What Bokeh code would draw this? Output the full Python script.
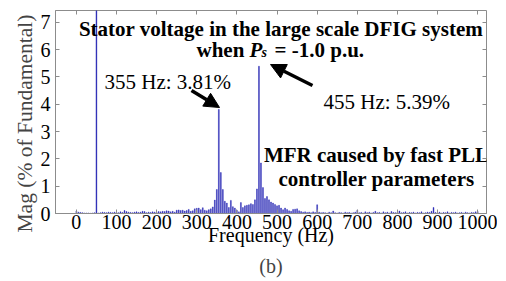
from bokeh.plotting import figure
from bokeh.models import (Range1d, LinearAxis, Label, Arrow, NormalHead, Title,
                          FixedTicker, CustomJSTickFormatter, ColumnDataSource)
from bokeh.embed import file_html
from bokeh.resources import INLINE

# ---- data -------------------------------------------------------------
freq_hz = list(range(0, 1001, 5))   # FFT bins (5 Hz resolution)
mag_pct = [
    0.09, 0.05, 0.04, 0.03, 0.02, 0.02, 0.02, 0.01, 0.02, 0.03,   # 0-45
    100.0, 0.02, 0.03, 0.05, 0.04, 0.03, 0.05, 0.04, 0.03, 0.05,  # 50-95
    0.04, 0.03, 0.06, 0.04, 0.11, 0.07, 0.05, 0.04, 0.03, 0.05,   # 100-145
    0.06, 0.04, 0.05, 0.08, 0.07, 0.03, 0.05, 0.04, 0.06, 0.05,   # 150-195
    0.04, 0.07, 0.06, 0.08, 0.07, 0.10, 0.09, 0.06, 0.08, 0.05,   # 200-245
    0.12, 0.13, 0.11, 0.12, 0.09, 0.11, 0.15, 0.08, 0.10, 0.17,   # 250-295
    0.19, 0.20, 0.14, 0.21, 0.12, 0.10, 0.14, 0.17, 0.24, 0.49,   # 300-345
    0.88, 3.81, 1.50, 0.88, 0.45, 0.38, 0.22, 0.48, 0.25, 0.20,   # 350-395
    0.12, 0.06, 0.40, 0.22, 0.28, 0.30, 0.32, 0.36, 0.33, 0.50,   # 400-445
    0.90, 5.39, 1.85, 0.95, 0.55, 0.62, 0.50, 0.42, 0.38, 0.33,   # 450-495
    0.28, 0.30, 0.20, 0.14, 0.20, 0.15, 0.10, 0.08, 0.15, 0.16,   # 500-545
    0.17, 0.10, 0.07, 0.05, 0.06, 0.04, 0.05, 0.03, 0.06, 0.04,   # 550-595
    0.32, 0.05, 0.03, 0.04, 0.03, 0.02, 0.05, 0.03, 0.09, 0.03,   # 600-645
    0.02, 0.04, 0.03, 0.02, 0.05, 0.03, 0.04, 0.02, 0.03, 0.05,   # 650-695
    0.12, 0.03, 0.04, 0.02, 0.06, 0.03, 0.05, 0.02, 0.04, 0.08,   # 700-745
    0.03, 0.04, 0.02, 0.06, 0.03, 0.05, 0.02, 0.07, 0.04, 0.03,   # 750-795
    0.05, 0.09, 0.03, 0.04, 0.06, 0.02, 0.04, 0.03, 0.05, 0.02,   # 800-845
    0.04, 0.03, 0.06, 0.02, 0.03, 0.05, 0.04, 0.08, 0.22, 0.04,   # 850-895
    0.03, 0.05, 0.02, 0.04, 0.03, 0.06, 0.02, 0.04, 0.03, 0.05,   # 900-945
    0.02, 0.03, 0.04, 0.02, 0.05, 0.03, 0.02, 0.04, 0.03, 0.06,   # 950-995
    0.07,                                                          # 1000
]
x_ticks = [0, 100, 200, 300, 400, 500, 600, 700, 800, 900, 1000]
y_ticks = [0, 1, 2, 3, 4, 5, 6, 7]

title_line1 = "Stator voltage in the large scale DFIG system"
peak1_text = "355 Hz: 3.81%"
peak2_text = "455 Hz: 5.39%"
note_line1 = "MFR caused by fast PLL"
note_line2 = "controller parameters"
y_label = "Mag (% of Fundamental)"
x_label = "Frequency (Hz)"

# ---- figure -----------------------------------------------------------
FONT = "'Liberation Serif', 'Times New Roman', serif"
GRAY = "#8c8c8c"
BLUE = "#2323b4"

p = figure(frame_width=431, frame_height=203, output_backend="svg",
           toolbar_location=None,
           x_range=Range1d(-52, 1022), y_range=Range1d(0, 7.43),
           min_border_left=55, min_border_right=11, min_border_top=10,
           min_border_bottom=0, background_fill_color="white",
           border_fill_color="white")
p.grid.visible = False
p.outline_line_color = GRAY

src = ColumnDataSource(dict(freq=freq_hz, mag=mag_pct))
p.vbar(x="freq", top="mag", width=2.2, source=src,
       fill_color=BLUE, line_color=BLUE, line_width=0.4)

for ax in (p.xaxis[0], p.yaxis[0]):
    ax.axis_line_color = GRAY
    ax.major_tick_line_color = GRAY
    ax.major_tick_in = 4
    ax.major_tick_out = 0
    ax.minor_tick_line_color = None
    ax.major_label_text_font = FONT
    ax.major_label_text_font_size = "20px"
    ax.major_label_text_color = "black"
    ax.axis_label_text_font = FONT
    ax.axis_label_text_font_style = "normal"
    ax.axis_label_text_color = "black"

p.xaxis.ticker = FixedTicker(ticks=x_ticks)
p.yaxis.ticker = FixedTicker(ticks=y_ticks)
p.xaxis.axis_label = x_label
p.xaxis.axis_label_text_font_size = "20px"
p.xaxis.major_label_standoff = 1
p.xaxis.axis_label_standoff = -8
p.yaxis.major_label_standoff = 5

blank = CustomJSTickFormatter(code="return ''")
top_ax = LinearAxis(ticker=FixedTicker(ticks=x_ticks), formatter=blank,
                    axis_line_color=None, major_tick_line_color=GRAY,
                    major_tick_in=4, major_tick_out=0,
                    minor_tick_line_color=None, major_label_standoff=0,
                    major_label_text_font_size="1px")
right_ax = LinearAxis(ticker=FixedTicker(ticks=y_ticks), formatter=blank,
                      axis_line_color=None, major_tick_line_color=GRAY,
                      major_tick_in=4, major_tick_out=0,
                      minor_tick_line_color=None, major_label_standoff=0,
                      major_label_text_font_size="1px")
p.add_layout(top_ax, "above")
p.add_layout(right_ax, "right")

# y-axis label as a left-side title (starts a little below the frame bottom)
p.add_layout(Title(text=y_label, align="left", offset=-19, text_font=FONT,
                   text_font_size="21.5px", text_font_style="normal",
                   standoff=2), "left")
p.add_layout(Title(text="(b)", align="center", text_font=FONT,
                   text_font_size="20px", text_font_style="normal",
                   standoff=8), "below")

def lab(x, y, text, size="21px", style="bold", align="left"):
    p.add_layout(Label(x=x, y=y, text=text, text_font=FONT,
                       text_font_size=size, text_font_style=style,
                       text_align=align, text_baseline="alphabetic",
                       text_color="black"))

lab(509.9, 6.771, title_line1, align="center")
lab(299.4, 6.002, "when ")
lab(431.4, 6.002, "P", style="bold italic")
lab(461.3, 5.893, "s", size="14px", style="bold italic")
lab(493.7, 6.002, "= -1.0 p.u.")
lab(70.1, 4.795, peak1_text, style="normal")
lab(615.8, 4.063, peak2_text, style="normal")
lab(747.9, 2.123, note_line1, align="center")
lab(747.9, 1.281, note_line2, align="center")

for xs, ys, xe, ye in [(286.9, 4.502, 356.7, 3.880), (588.4, 4.685, 483.8, 5.453)]:
    p.add_layout(Arrow(end=NormalHead(size=15, fill_color="black",
                                      line_color="black", line_width=1),
                       x_start=xs, y_start=ys, x_end=xe, y_end=ye,
                       line_width=3.5, line_color="black"))

html = file_html(p, INLINE)
html = html.replace("<head>", "<head><style>html,body{overflow:hidden}</style>", 1)
open("out.html", "w").write(html)
